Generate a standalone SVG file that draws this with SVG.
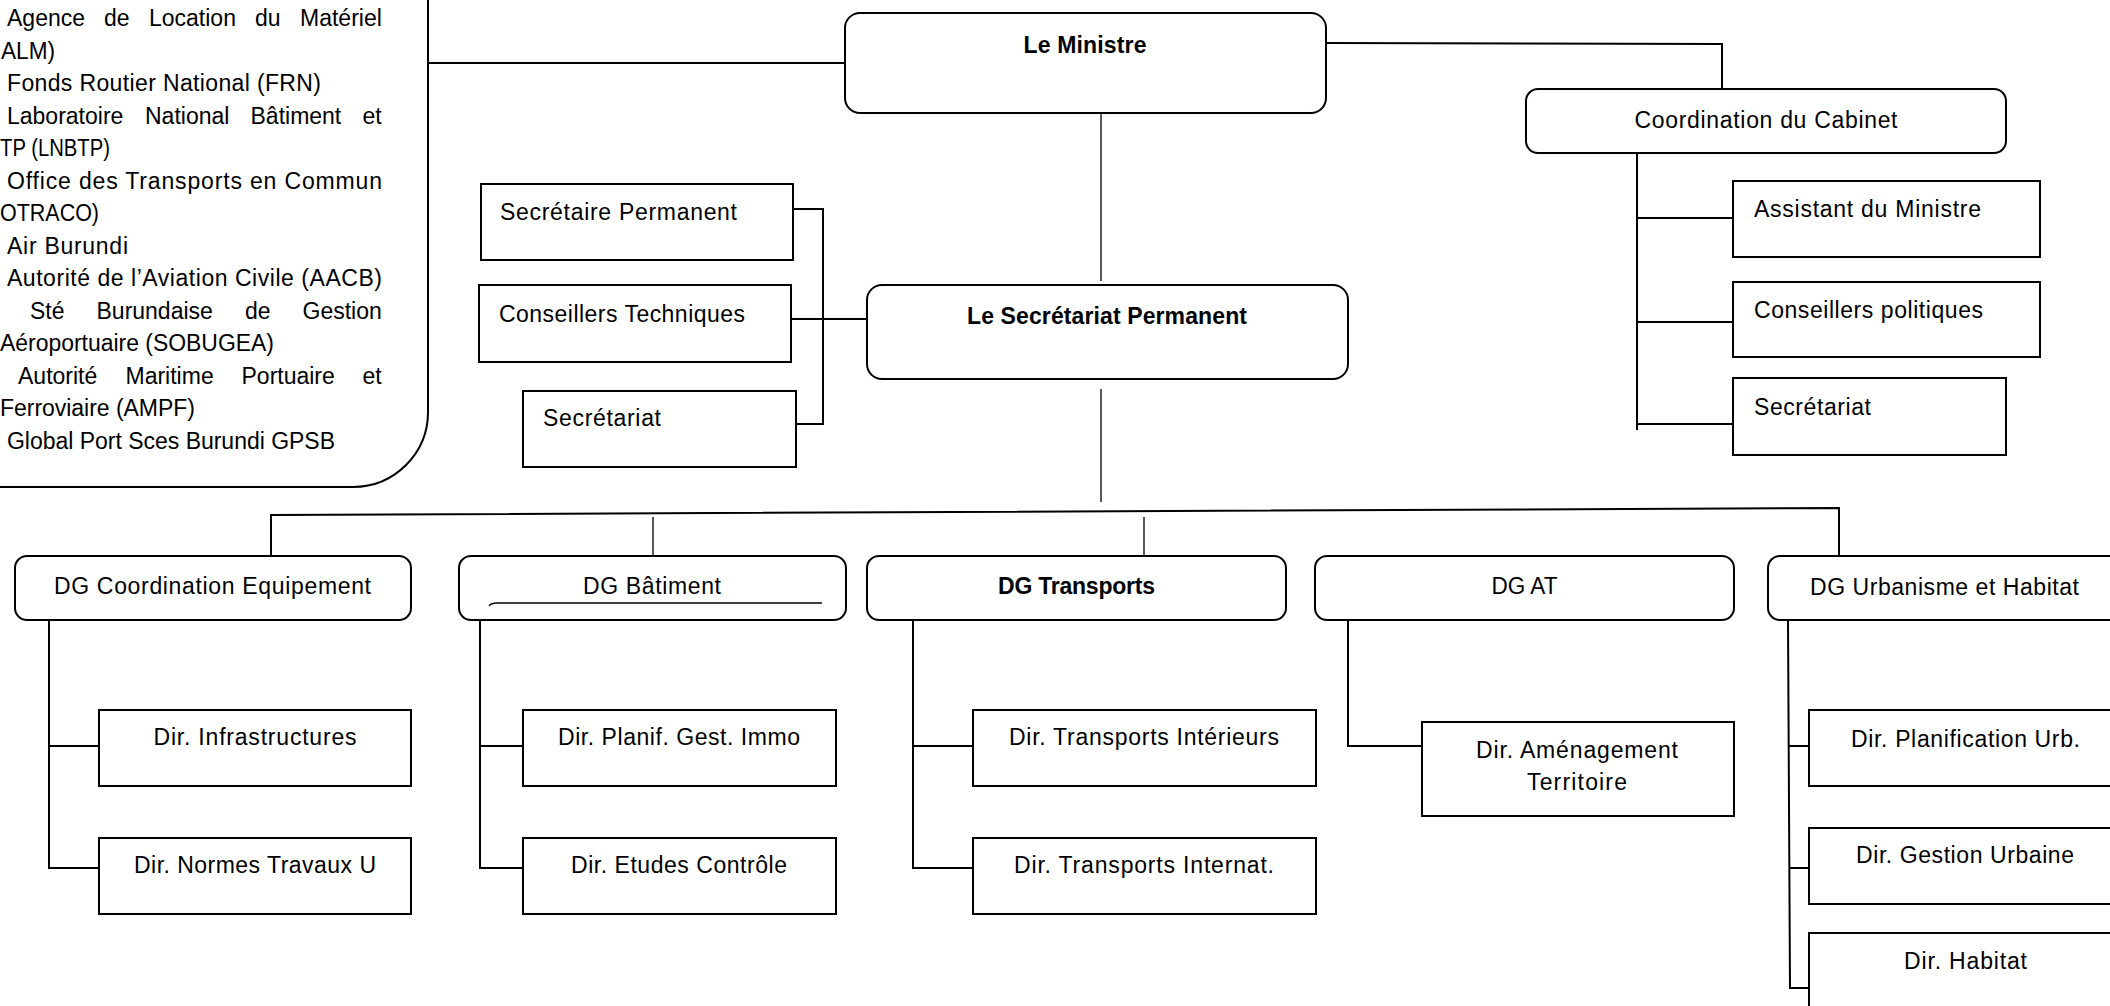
<svg xmlns="http://www.w3.org/2000/svg" width="2110" height="1006" viewBox="0 0 2110 1006">
<style>
  .t { font-family: "Liberation Sans", Arial, sans-serif; font-size: 23px; fill: #000; }
  .b { font-weight: bold; }
  .m { text-anchor: middle; }
  .box { fill: #fff; stroke: #000; stroke-width: 2; }
  .ln { fill: none; stroke: #000; stroke-width: 2; }
  .thin { fill: none; stroke: #000; stroke-width: 1.3; }
</style>
<rect x="0" y="0" width="2110" height="1006" fill="#fff"/>

<g id="connectors">
  <path class="ln" d="M428 63 H845"/>
  <path class="ln" d="M1326 43 L1722 44 V97"/>
  <path class="thin" d="M1101 105 V281"/>
  <path class="ln" d="M1637 143 V430 M1637 218 H1733 M1637 322 H1733 M1637 424 H1733"/>
  <path class="ln" d="M791 209 H823 V424 H791 M788 319 H867"/>
  <path class="thin" d="M1101 389 V502"/>
  <path class="ln" d="M271 556 V515 L1839 508 V556"/>
  <path class="thin" d="M653 517 V556 M1144 517 V556"/>
  <path class="ln" d="M49 620 V868 H99 M49 746 H99"/>
  <path class="ln" d="M480 620 V868 H523 M480 746 H523"/>
  <path class="ln" d="M913 620 V868 H973 M913 746 H973"/>
  <path class="ln" d="M1348 620 V746 H1422"/>
  <path class="ln" d="M1788 620 L1790 988 H1809 M1789 746 H1809 M1789 868 H1809"/>
</g>

<g id="n-organismes">
  <path class="box" d="M-10 487 H353 A75 75 0 0 0 428 412 V-10"/>
  <text class="t" y="26"><tspan x="7">Agence</tspan><tspan x="104">de</tspan><tspan x="149">Location</tspan><tspan x="255">du</tspan><tspan x="300">Matériel</tspan></text>
  <text class="t" x="1" y="58.5" textLength="54" lengthAdjust="spacingAndGlyphs">ALM)</text>
  <text class="t" x="7" y="91" textLength="314" lengthAdjust="spacing">Fonds Routier National (FRN)</text>
  <text class="t" y="123.5"><tspan x="7">Laboratoire</tspan><tspan x="145">National</tspan><tspan x="250.5">Bâtiment</tspan><tspan x="362.5">et</tspan></text>
  <text class="t" x="0" y="156" textLength="110" lengthAdjust="spacingAndGlyphs">TP (LNBTP)</text>
  <text class="t" x="7" y="188.5" textLength="375" lengthAdjust="spacing">Office des Transports en Commun</text>
  <text class="t" x="0" y="221" textLength="99" lengthAdjust="spacingAndGlyphs">OTRACO)</text>
  <text class="t" x="7" y="253.5" textLength="121" lengthAdjust="spacing">Air Burundi</text>
  <text class="t" x="7" y="286" textLength="375" lengthAdjust="spacing">Autorité de l’Aviation Civile (AACB)</text>
  <text class="t" y="318.5"><tspan x="30">Sté</tspan><tspan x="96.5">Burundaise</tspan><tspan x="245">de</tspan><tspan x="302.5">Gestion</tspan></text>
  <text class="t" x="0" y="351" textLength="274" lengthAdjust="spacingAndGlyphs">Aéroportuaire (SOBUGEA)</text>
  <text class="t" y="383.5"><tspan x="18">Autorité</tspan><tspan x="125.5">Maritime</tspan><tspan x="241.5">Portuaire</tspan><tspan x="362.5">et</tspan></text>
  <text class="t" x="0" y="416" textLength="195" lengthAdjust="spacing">Ferroviaire (AMPF)</text>
  <text class="t" x="7" y="448.5" textLength="328" lengthAdjust="spacing">Global Port Sces Burundi GPSB</text>
</g>

<g id="n-ministre">
  <rect class="box" x="845" y="13" width="481" height="100" rx="15"/>
  <text class="t b m" x="1085" y="53" textLength="123" lengthAdjust="spacing">Le Ministre</text>
</g>

<g id="n-coordination-cabinet">
  <rect class="box" x="1526" y="89" width="480" height="64" rx="12"/>
  <text class="t m" x="1766" y="128" textLength="263" lengthAdjust="spacing">Coordination du Cabinet</text>
</g>

<g id="n-assistant">
  <rect class="box" x="1733" y="181" width="307" height="76"/>
  <text class="t" x="1754" y="217" textLength="227" lengthAdjust="spacing">Assistant du Ministre</text>
</g>

<g id="n-conseillers-politiques">
  <rect class="box" x="1733" y="282" width="307" height="75"/>
  <text class="t" x="1754" y="318" textLength="229" lengthAdjust="spacing">Conseillers politiques</text>
</g>

<g id="n-secretariat-cabinet">
  <rect class="box" x="1733" y="378" width="273" height="77"/>
  <text class="t" x="1754" y="415" textLength="117" lengthAdjust="spacing">Secrétariat</text>
</g>

<g id="n-secretaire-permanent">
  <rect class="box" x="481" y="184" width="312" height="76"/>
  <text class="t" x="500" y="220" textLength="237" lengthAdjust="spacing">Secrétaire Permanent</text>
</g>

<g id="n-conseillers-techniques">
  <rect class="box" x="479" y="285" width="312" height="77"/>
  <text class="t" x="499" y="322" textLength="246" lengthAdjust="spacing">Conseillers Techniques</text>
</g>

<g id="n-secretariat-sp">
  <rect class="box" x="523" y="391" width="273" height="76"/>
  <text class="t" x="543" y="426" textLength="118" lengthAdjust="spacing">Secrétariat</text>
</g>

<g id="n-secretariat-permanent">
  <rect class="box" x="867" y="285" width="481" height="94" rx="15"/>
  <text class="t b m" x="1107" y="324" textLength="280" lengthAdjust="spacing">Le Secrétariat Permanent</text>
</g>

<g id="n-dg-coordination">
  <rect class="box" x="15" y="556" width="396" height="64" rx="12"/>
  <text class="t m" x="212.5" y="594" textLength="317" lengthAdjust="spacing">DG Coordination Equipement</text>
</g>

<g id="n-dg-batiment">
  <rect class="box" x="459" y="556" width="387" height="64" rx="12"/>
  <text class="t m" x="652" y="594" textLength="138" lengthAdjust="spacing">DG Bâtiment</text>
  <path class="thin" d="M489 606 Q491 603 497 603 L822 603"/>
</g>

<g id="n-dg-transports">
  <rect class="box" x="867" y="556" width="419" height="64" rx="12"/>
  <text class="t b m" x="1076.5" y="594" textLength="157" lengthAdjust="spacing">DG Transports</text>
</g>

<g id="n-dg-at">
  <rect class="box" x="1315" y="556" width="419" height="64" rx="12"/>
  <text class="t m" x="1524.5" y="594" textLength="66" lengthAdjust="spacingAndGlyphs">DG AT</text>
</g>

<g id="n-dg-urbanisme">
  <rect class="box" x="1768" y="556" width="380" height="64" rx="12"/>
  <text class="t m" x="1944.5" y="595" textLength="269" lengthAdjust="spacing">DG Urbanisme et Habitat</text>
</g>

<g id="n-dir-infrastructures">
  <rect class="box" x="99" y="710" width="312" height="76"/>
  <text class="t m" x="255" y="745" textLength="203" lengthAdjust="spacing">Dir. Infrastructures</text>
</g>

<g id="n-dir-normes">
  <rect class="box" x="99" y="838" width="312" height="76"/>
  <text class="t m" x="255" y="873" textLength="242" lengthAdjust="spacing">Dir. Normes Travaux U</text>
</g>

<g id="n-dir-planif-immo">
  <rect class="box" x="523" y="710" width="313" height="76"/>
  <text class="t m" x="679" y="745" textLength="242" lengthAdjust="spacing">Dir. Planif. Gest. Immo</text>
</g>

<g id="n-dir-etudes">
  <rect class="box" x="523" y="838" width="313" height="76"/>
  <text class="t m" x="679" y="873" textLength="216" lengthAdjust="spacing">Dir. Etudes Contrôle</text>
</g>

<g id="n-dir-transports-interieurs">
  <rect class="box" x="973" y="710" width="343" height="76"/>
  <text class="t m" x="1144" y="745" textLength="270" lengthAdjust="spacing">Dir. Transports Intérieurs</text>
</g>

<g id="n-dir-transports-internat">
  <rect class="box" x="973" y="838" width="343" height="76"/>
  <text class="t m" x="1144" y="873" textLength="260" lengthAdjust="spacing">Dir. Transports Internat.</text>
</g>

<g id="n-dir-amenagement">
  <rect class="box" x="1422" y="722" width="312" height="94"/>
  <text class="t m" x="1577" y="758" textLength="202" lengthAdjust="spacing">Dir. Aménagement</text>
  <text class="t m" x="1577" y="790" textLength="100" lengthAdjust="spacing">Territoire</text>
</g>

<g id="n-dir-planification-urb">
  <rect class="box" x="1809" y="710" width="340" height="76"/>
  <text class="t m" x="1965.5" y="747" textLength="229" lengthAdjust="spacing">Dir. Planification Urb.</text>
</g>

<g id="n-dir-gestion-urbaine">
  <rect class="box" x="1809" y="828" width="340" height="76"/>
  <text class="t m" x="1965" y="863" textLength="218" lengthAdjust="spacing">Dir. Gestion Urbaine</text>
</g>

<g id="n-dir-habitat">
  <rect class="box" x="1809" y="933" width="340" height="100"/>
  <text class="t m" x="1965.5" y="969" textLength="123" lengthAdjust="spacing">Dir. Habitat</text>
</g>
</svg>
